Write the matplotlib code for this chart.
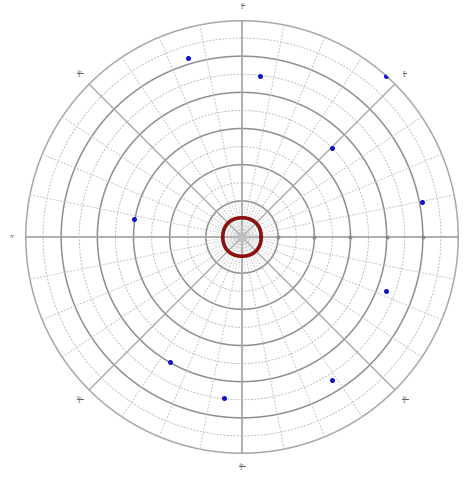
"""
    polar grid with a closed curve and scattered points
"""

import numpy as np
import matplotlib.pyplot as plt

# data
point_r = [5.17, 4.48, 5.97, 3.5, 5.07, 4.26, 4.68, 4.49, 4.0, 3.04]
point_deg = [106.8, 83.6, 48.1, 44.8, 11.1, -20.6, -57.9, -96.3, -119.9, 170.6]

major_rings = [1, 2, 3, 4, 5]
minor_rings = [0.5, 1.5, 2.5, 3.5, 4.5, 5.5]
outer_ring = 6

angle_labels = [r'$\frac{\pi}{4}$', r'$\frac{\pi}{2}$', r'$\frac{3\pi}{4}$', r'$\pi$',
                r'$\frac{5\pi}{4}$', r'$\frac{3\pi}{2}$', r'$\frac{7\pi}{4}$']
label_deg = [45, 90, 135, 180, 225, 270, 315]

# curve r(theta), a slightly squared circle
curve_base = 0.54
curve_wave = -0.008

W, H = 467, 479
cx, cy, R = 242, 237, 217

fig = plt.figure(figsize=(W / 100, H / 100), dpi=100)
ax = fig.add_axes([(cx - R) / W, (H - cy - R) / H, 2 * R / W, 2 * R / H], projection='polar')
ax.set_ylim(0, outer_ring)
ax.axis('off')

t = np.linspace(0, 2 * np.pi, 721)

# rings
for r in minor_rings:
    ax.plot(t, np.full_like(t, r), color='#bdbdbd', lw=0.7, ls=(0, (2, 1.5)))
for r in major_rings:
    ax.plot(t, np.full_like(t, r), color='#8f8f8f', lw=1.1)
ax.plot(t, np.full_like(t, outer_ring), color='#a8a8a8', lw=2.2)

# spokes
for k in range(32):
    a = k * np.pi / 16
    if k % 8 == 0:
        ax.plot([a, a], [0, 6.25], color='#a8a8a8', lw=1.3)
    elif k % 4 == 0:
        ax.plot([a, a], [0, outer_ring], color='#a8a8a8', lw=1.0)
    else:
        ax.plot([a, a], [0, outer_ring], color='#c4c4c4', lw=0.7, ls=(0, (2, 1.5)))
for k in range(64):
    if k % 2:
        a = k * np.pi / 32
        ax.plot([a, a], [0, 1], color='#c8c8c8', lw=0.5, ls=(0, (2, 1.5)))

# small ticks on the positive x axis
ax.plot(np.zeros(5), major_rings, ls='none', marker='o', ms=1.8, color='#888888')

# angle labels
for lab, d in zip(angle_labels, label_deg):
    ax.text(np.radians(d), 6.36, lab, fontsize=4.5, color='#666666',
            ha='center', va='center')

# closed curve
ax.plot(t, curve_base + curve_wave * np.cos(4 * t), color='#8b1010', lw=2.6)

# points
ax.plot(np.radians(point_deg), point_r, ls='none', marker='o', ms=3.6,
        color='#1010c8', markeredgewidth=0)

fig.savefig('out.png', dpi=100)
